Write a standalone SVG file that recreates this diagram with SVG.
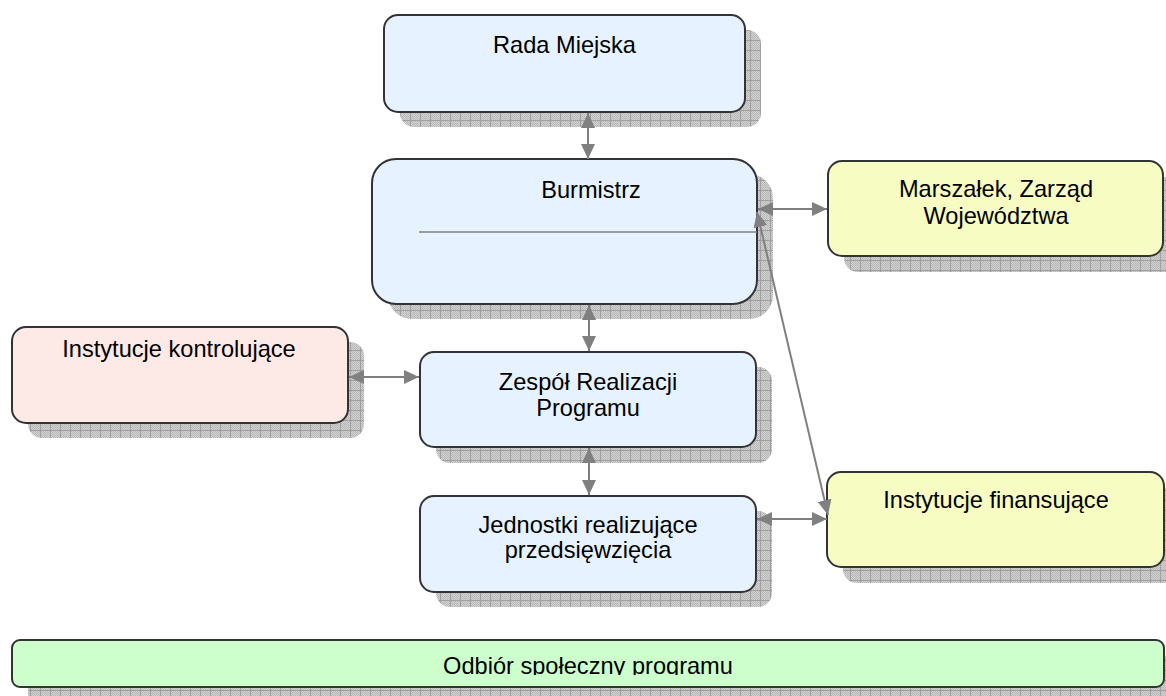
<svg xmlns="http://www.w3.org/2000/svg" width="1166" height="696" viewBox="0 0 1166 696">
  <defs>
    <pattern id="checker" width="2" height="2" patternUnits="userSpaceOnUse">
      <rect width="2" height="2" fill="#d2d2d2"/>
      <rect width="1" height="1" fill="#b8b8b8"/>
      <rect x="1" y="1" width="1" height="1" fill="#b8b8b8"/>
    </pattern>
    <pattern id="grid" width="10" height="10" patternUnits="userSpaceOnUse">
      <rect width="10" height="10" fill="url(#checker)"/>
      <path d="M0.5 0 V10 M0 0.5 H10" stroke="#a0a0a0" stroke-width="1" fill="none"/>
    </pattern>
    <marker id="ah" viewBox="0 0 15 14" refX="15" refY="7" markerWidth="15" markerHeight="14" markerUnits="userSpaceOnUse" orient="auto-start-reverse">
      <path d="M0 0 L15 7 L0 14 Z" fill="#808080"/>
    </marker>
    <clipPath id="odbClip">
      <rect x="12" y="640" width="1152" height="35"/>
    </clipPath>
  </defs>
  <style>
    .shadow { fill: url(#grid); stroke: none; }
    .box { stroke: #333333; stroke-width: 2; }
    .blue { fill: #e6f2ff; }
    .pink { fill: #fdeae7; }
    .yellow { fill: #f6fcc2; }
    .green { fill: #ccffcc; }
    .lbl { font-family: "Liberation Sans", Arial, sans-serif; font-size: 23.6px; fill: #000000; text-anchor: middle; }
    .conn { stroke: #808080; stroke-width: 2; fill: none; }
  </style>

  <g id="node-rada">
    <rect class="shadow" x="400" y="30" width="361" height="97" rx="14"/>
    <rect class="box blue" x="384" y="15" width="361" height="97" rx="14"/>
    <text class="lbl" x="564.5" y="53">Rada Miejska</text>
  </g>

  <g id="node-burmistrz">
    <rect class="shadow" x="388" y="174" width="385" height="145" rx="24"/>
    <rect class="box blue" x="372" y="159" width="385" height="145" rx="24"/>
    <text class="lbl" x="591" y="198">Burmistrz</text>
    <line x1="419" y1="232" x2="757" y2="232" stroke="#808080" stroke-width="1.5"/>
  </g>

  <g id="node-marszalek">
    <rect class="shadow" x="844" y="177" width="335" height="95" rx="14"/>
    <rect class="box yellow" x="828" y="161" width="335" height="95" rx="14"/>
    <text class="lbl" x="996" y="197">Marszałek, Zarząd</text>
    <text class="lbl" x="996" y="224">Województwa</text>
  </g>

  <g id="node-kontrol">
    <rect class="shadow" x="28" y="342" width="336" height="96" rx="14"/>
    <rect class="box pink" x="12" y="327" width="336" height="96" rx="14"/>
    <text class="lbl" x="179" y="357">Instytucje kontrolujące</text>
  </g>

  <g id="node-zespol">
    <rect class="shadow" x="436" y="367" width="336" height="96" rx="14"/>
    <rect class="box blue" x="420" y="352" width="336" height="95" rx="14"/>
    <text class="lbl" x="588" y="390">Zespół Realizacji</text>
    <text class="lbl" x="588" y="416">Programu</text>
  </g>

  <g id="node-jednostki">
    <rect class="shadow" x="436" y="511" width="336" height="96" rx="14"/>
    <rect class="box blue" x="420" y="496" width="336" height="96" rx="14"/>
    <text class="lbl" x="588" y="533">Jednostki realizujące</text>
    <text class="lbl" x="588" y="558">przedsięwzięcia</text>
  </g>

  <g id="node-finansujace">
    <rect class="shadow" x="843" y="488" width="337" height="95" rx="14"/>
    <rect class="box yellow" x="827" y="472" width="337" height="95" rx="14"/>
    <text class="lbl" x="996" y="508">Instytucje finansujące</text>
  </g>

  <g id="node-odbior">
    <rect class="shadow" x="28" y="656" width="1152" height="47" rx="8"/>
    <rect class="box green" x="12" y="640" width="1152" height="47" rx="8"/>
    <text class="lbl" x="588" y="674" clip-path="url(#odbClip)">Odbiór społeczny programu</text>
  </g>

  <g id="connectors">
    <line class="conn" x1="588" y1="113" x2="588" y2="159" marker-start="url(#ah)" marker-end="url(#ah)"/>
    <line class="conn" x1="589" y1="305" x2="589" y2="351" marker-start="url(#ah)" marker-end="url(#ah)"/>
    <line class="conn" x1="589" y1="448" x2="589" y2="495" marker-start="url(#ah)" marker-end="url(#ah)"/>
    <line class="conn" x1="349" y1="377" x2="419" y2="377" marker-start="url(#ah)" marker-end="url(#ah)"/>
    <line class="conn" x1="758" y1="209" x2="827" y2="209" marker-start="url(#ah)" marker-end="url(#ah)"/>
    <line class="conn" x1="757" y1="519" x2="827" y2="519" marker-start="url(#ah)" marker-end="url(#ah)"/>
    <line class="conn" x1="757" y1="212" x2="828" y2="515" marker-start="url(#ah)" marker-end="url(#ah)"/>
  </g>
</svg>
